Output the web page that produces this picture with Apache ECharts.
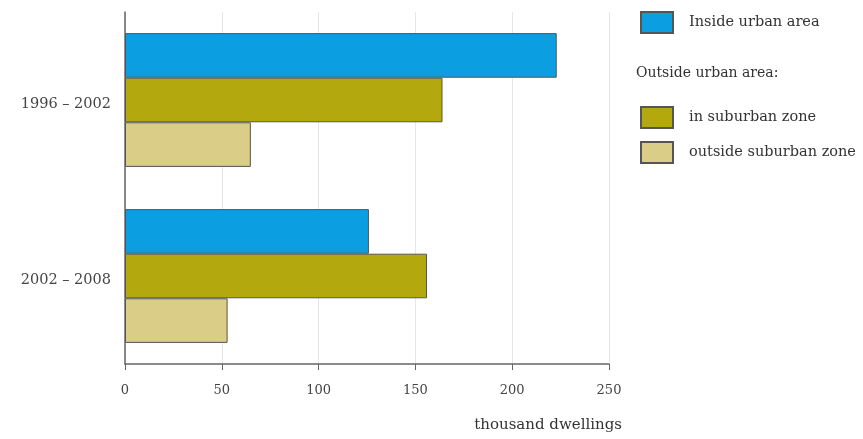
<!DOCTYPE html>
<html>
<head>
<meta charset="utf-8">
<script src="https://cdn.jsdelivr.net/npm/echarts@6/dist/echarts.min.js"></script>
<style>html,body{margin:0;padding:0;background:#fff}#c{width:863px;height:439px}</style>
</head>
<body>
<div id="c"></div>
<script>
var categories = ['1996 – 2002', '2002 – 2008'];
var insideUrban = [223, 126];
var inSuburban = [164, 156];
var outsideSuburban = [65, 53];
var xTicks = [0, 50, 100, 150, 200, 250];
var seriesNames = ['Inside urban area', 'in suburban zone', 'outside suburban zone'];

var FONT = 'DejaVu Serif';
var chart = echarts.init(document.getElementById('c'));
var borderStyle = { borderColor: '#555', borderWidth: 1 };
chart.setOption({
  animation: false,
  textStyle: { fontFamily: FONT },
  grid: { left: 125, right: 254, top: 12, bottom: 75, containLabel: false },
  xAxis: {
    type: 'value', min: xTicks[0], max: xTicks[xTicks.length - 1], interval: 50,
    axisLine: { show: true, lineStyle: { color: '#666', width: 1.5 } },
    axisTick: { show: true, length: 6, inside: false, lineStyle: { color: '#666' } },
    axisLabel: { color: '#444', fontFamily: FONT, fontSize: 13, margin: 20 },
    splitLine: { show: true, lineStyle: { color: '#e6e6e6', width: 1 } },
    name: 'thousand dwellings', nameLocation: 'end', nameGap: 13,
    nameTextStyle: { color: '#333', fontFamily: FONT, fontSize: 15, align: 'right', verticalAlign: 'top', padding: [54, 0, 0, 0] }
  },
  yAxis: {
    type: 'category', data: categories, inverse: true,
    axisLine: { show: true, lineStyle: { color: '#666', width: 1.5 } },
    axisTick: { show: false },
    axisLabel: { color: '#444', fontFamily: FONT, fontSize: 14.5, margin: 14, verticalAlign: 'top', lineHeight: 8 }
  },
  legend: [
    { data: [seriesNames[0]], orient: 'vertical', left: 640, top: 11, padding: 0, itemWidth: 32, itemHeight: 21,
      itemGap: 10, textStyle: { color: '#333', fontFamily: FONT, fontSize: 14.5, padding: [0, 0, 0, 11] }, icon: 'rect', selectedMode: false },
    { data: [seriesNames[1], seriesNames[2]], orient: 'vertical', left: 640, top: 106, padding: 0, itemWidth: 32, itemHeight: 21,
      itemGap: 12, textStyle: { color: '#333', fontFamily: FONT, fontSize: 14.5, padding: [0, 0, 0, 11] }, icon: 'rect', selectedMode: false }
  ],
  title: {
    text: 'Outside urban area:', left: 636, top: 66, padding: 0,
    textStyle: { color: '#333', fontFamily: FONT, fontSize: 14, fontWeight: 'normal' }
  },
  series: [
    { name: seriesNames[0], type: 'bar', data: insideUrban, barGap: '0%', barCategoryGap: '24%',
      itemStyle: Object.assign({ color: '#0b9fe2' }, borderStyle) },
    { name: seriesNames[1], type: 'bar', data: inSuburban, barGap: '0%', barCategoryGap: '24%',
      itemStyle: Object.assign({ color: '#b4a80f' }, borderStyle) },
    { name: seriesNames[2], type: 'bar', data: outsideSuburban, barGap: '0%', barCategoryGap: '24%',
      itemStyle: Object.assign({ color: '#d9cd87' }, borderStyle) }
  ]
});
</script>
</body>
</html>
